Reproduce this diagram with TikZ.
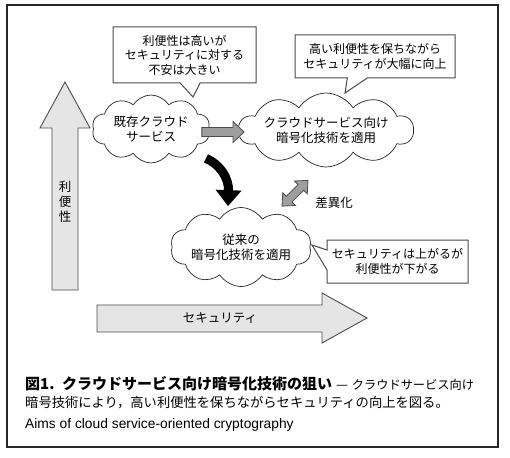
\documentclass[tikz,border=0pt]{standalone}
\usepackage{fontspec}
\setmainfont{Noto Sans CJK JP}
\newfontfamily\enfont{Liberation Sans}
\usetikzlibrary{shapes.symbols,shapes.callouts,arrows.meta,calc}

\tikzset{
  puff/.style={cloud, cloud puffs=10, cloud puff arc=115, cloud ignores aspect,
    draw=black!85, line width=0.7pt, fill=white, align=center, inner sep=0pt,
    font=\fontsize{12.5}{15}\selectfont},
  note/.style={rectangle callout, draw=black!70, line width=1pt, fill=white,
    align=center, inner sep=0pt, callout pointer width=20pt,
    font=\fontsize{12}{14.5}\selectfont},
  axisarrow/.style={draw=black!70, line width=0.9pt, fill=black!10},
  label/.style={font=\fontsize{12.5}{15}\selectfont, align=center, inner sep=0pt},
  fatarrow/.style={draw=black!70, line width=0.8pt, fill=black!38, to path={
    let \p1=(\tikztostart), \p2=(\tikztotarget), \n1={atan2(\y2-\y1,\x2-\x1)} in
    ($(\p1)+(\n1+90:4.5pt)$) -- ($(\p2)+(\n1+180:11pt)+(\n1+90:4.5pt)$)
    -- ($(\p2)+(\n1+180:11pt)+(\n1+90:10.5pt)$) -- (\p2)
    -- ($(\p2)+(\n1+180:11pt)+(\n1-90:10.5pt)$) -- ($(\p2)+(\n1+180:11pt)+(\n1-90:4.5pt)$)
    -- ($(\p1)+(\n1-90:4.5pt)$) -- cycle}},
  fatboth/.style={draw=black!70, line width=0.8pt, fill=black!38, to path={
    let \p1=(\tikztostart), \p2=(\tikztotarget), \n1={atan2(\y2-\y1,\x2-\x1)} in
    ($(\p1)+(\n1:10pt)+(\n1+90:4pt)$) -- ($(\p2)+(\n1+180:10pt)+(\n1+90:4pt)$)
    -- ($(\p2)+(\n1+180:10pt)+(\n1+90:9pt)$) -- (\p2)
    -- ($(\p2)+(\n1+180:10pt)+(\n1-90:9pt)$) -- ($(\p2)+(\n1+180:10pt)+(\n1-90:4pt)$)
    -- ($(\p1)+(\n1:10pt)+(\n1-90:4pt)$) -- ($(\p1)+(\n1:10pt)+(\n1-90:9pt)$)
    -- (\p1) -- ($(\p1)+(\n1:10pt)+(\n1+90:9pt)$) -- cycle}},
  bigbend/.style={line width=9pt, -{Triangle[length=16pt,width=25pt]}},
}

\begin{document}
\begin{tikzpicture}[x=1pt,y=-1pt]
\useasboundingbox (0,0) rectangle (510,457);
\draw[line width=1.1pt, black!85] (7,5) rectangle (498,447);

\draw[axisarrow] (52,290) -- (52,128) -- (40,128) -- (65,82) -- (90,128) -- (78,128) -- (78,290) -- cycle;
\draw[axisarrow] (97,305) -- (322,305) -- (322,293) -- (367,318) -- (322,343) -- (322,332) -- (97,332) -- cycle;
\node[label] (conv) at (65,202) {利\\便\\性};
\node[label] (secu) at (220,318) {セキュリティ};

\node[puff, minimum width=118pt, minimum height=68pt] (cloud1) at (151,129) {既存クラウド\\サービス};
\node[puff, minimum width=158pt, minimum height=74pt] (cloud2) at (326,130) {クラウドサービス向け\\暗号化技術を適用};
\node[puff, minimum width=132pt, minimum height=79pt] (cloud3) at (241,247) {従来の\\暗号化技術を適用};

\draw[fatarrow] ([shift={(-7,3)}]cloud1.east) to ([shift={(6,2)}]cloud2.west);
\draw[fatboth] ([shift={(-18,13)}]cloud2.south) to ([shift={(41,-1)}]cloud3.north);
\draw[bigbend] ([shift={(55,-5)}]cloud1.south) .. controls +(14,6) and +(1,-28) .. ([shift={(-13,-1)}]cloud3.north);
\node[label] (diff) at (334,203) {差異化};

\node[note, minimum width=143pt, minimum height=56pt, callout absolute pointer={(193,97)}] (note1) at (184.5,55) {利便性は高いが\\セキュリティに対する\\不安は大きい};
\node[note, minimum width=160pt, minimum height=43pt, callout absolute pointer={(345,93)}] (note2) at (375,56.5) {高い利便性を保ちながら\\セキュリティが大幅に向上};
\node[note, minimum width=141pt, minimum height=43pt, callout absolute pointer={(312,245)}] (note3) at (397.5,261.5) {セキュリティは上がるが\\利便性が下がる};

\node[anchor=north west, align=left, inner sep=0pt, font=\fontsize{13.3}{18.5}\selectfont] (cap) at (25,376)
  {{\fontsize{15}{18.5}\selectfont\bfseries 図1.\hspace{0.5em}クラウドサービス向け暗号化技術の狙い}\hspace{0.3em}—\hspace{0.3em}{\fontsize{12.2}{18.5}\selectfont クラウドサービス向け}\\
   暗号技術により，高い利便性を保ちながらセキュリティの向上を図る。\\[2pt]
   {\enfont\fontsize{13.8}{18.5}\selectfont Aims of cloud service-oriented cryptography}};
\end{tikzpicture}
\end{document}
